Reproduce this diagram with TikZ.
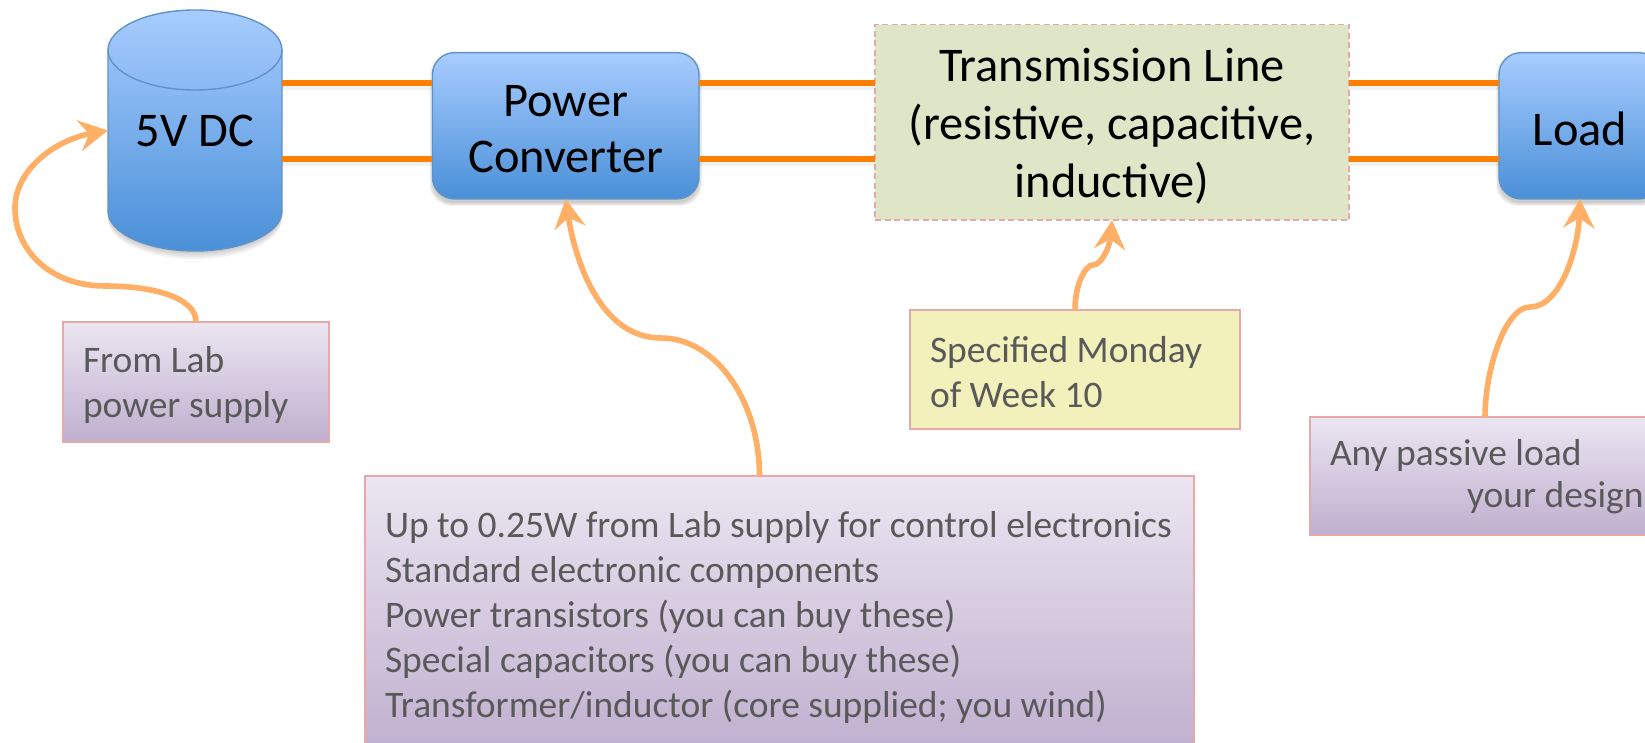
\documentclass[tikz,border=0pt]{standalone}
\usepackage{fontspec}
\setmainfont{Carlito}
\usetikzlibrary{arrows.meta}
\definecolor{blueTop}{HTML}{A8CCFF}
\definecolor{blueBot}{HTML}{4A90D8}
\definecolor{blueLine}{HTML}{5F93C8}
\definecolor{noteLine}{HTML}{E6A9A9}
\definecolor{purpTop}{HTML}{EBE6F1}
\definecolor{purpBot}{HTML}{C0AFCF}
\definecolor{noteText}{HTML}{595959}
\definecolor{wire}{HTML}{FF8000}
\definecolor{callout}{HTML}{FFB066}
\definecolor{tlfill}{RGB}{223,230,200}
\definecolor{specfill}{RGB}{243,241,187}
\tikzset{
  x=1pt,y=-1pt,
  bluebox/.style={rectangle,rounded corners=22pt,draw=blueLine,line width=1.4pt,top color=blueTop,bottom color=blueBot,
    align=center,text=black,font=\fontsize{48.4}{56.6}\selectfont,inner sep=0pt,outer sep=0pt},
  notebox/.style={rectangle,draw=noteLine,line width=1.6pt,align=flush left,text=noteText,
    font=\fontsize{37.5}{45}\selectfont,inner xsep=20pt,inner ysep=0pt,outer sep=0pt},
  purple/.style={top color=purpTop,bottom color=purpBot},
  wireline/.style={draw=wire,line width=5.6pt},
  wireshadow/.style={draw=black,opacity=.05,line width=6pt},
  calloutline/.style={draw=callout,line width=5.6pt,-{Stealth[length=29pt,width=31pt,inset=10pt]}},
}
\newcommand{\softshadow}[5]{%
  \foreach \e in {3,2,1,0}{
    \fill[black,opacity=.05,rounded corners=#5] (#1-\e,#2-\e+4) rectangle (#3+\e,#4+\e+4);
  }}
\newcommand{\cylbody}[1]{%
  (108,50+#1) .. controls (108,28+#1) and (147,10+#1) .. (195,10+#1) .. controls (243,10+#1) and (282,28+#1) .. (282,50+#1)
  -- (282,211+#1) .. controls (282,233+#1) and (243,251+#1) .. (195,251+#1) .. controls (147,251+#1) and (108,233+#1) .. (108,211+#1) -- cycle}
\begin{document}
\begin{tikzpicture}
\useasboundingbox (0,0) rectangle (1645,743);
\clip (0,0) rectangle (1645,743);
\fill[white] (0,0) rectangle (1645,743);
% shadows
\foreach \e in {2,4,6,8}{ \fill[black,opacity=.05] \cylbody{\e}; }
\softshadow{432.5}{52.7}{699}{199}{22pt}
\softshadow{1499}{52.7}{1661}{199}{22pt}
% rows of the wires
\coordinate (rowA) at (0,83.3);
\coordinate (rowB) at (0,159);
% cylinder
\draw[draw=blueLine,line width=1.4pt,top color=blueTop,bottom color=blueBot] \cylbody{0};
\draw[draw=blueLine,line width=1.4pt] (108,50) .. controls (108,72) and (147,90) .. (195,90) .. controls (243,90) and (282,72) .. (282,50);
% main nodes
\node[minimum width=174pt,minimum height=241pt,inner sep=0pt,outer sep=0pt,font=\fontsize{48.4}{56.6}\selectfont,text=black] (dc) at (195,130.5) {\rule{0pt}{33pt}5V DC};
\node[bluebox,minimum width=266.5pt,minimum height=146.3pt] (conv) at (565.7,125.8) {\rule{0pt}{38pt}Power\\Converter};
\node[rectangle,draw=noteLine,dash pattern=on 6pt off 3.5pt,line width=1.5pt,fill=tlfill,
  minimum width=474pt,minimum height=195.5pt,align=center,text=black,font=\fontsize{48.4}{58}\selectfont,inner sep=0pt,outer sep=0pt] (tl) at (1112,122.4) {\rule{0pt}{41pt}Transmission Line\\(resistive, capacitive,\\inductive)};
\node[bluebox,minimum width=162pt,minimum height=146.3pt] (load) at (1580,125.8) {\rule{0pt}{40pt}Load};
% wires
\foreach \a/\b in {dc/conv,conv/tl,tl/load}{
  \draw[wireshadow] ([yshift=-4pt]\a.east |- rowA) -- ([yshift=-4pt]\b.west |- rowA);
  \draw[wireshadow] ([yshift=-4pt]\a.east |- rowB) -- ([yshift=-4pt]\b.west |- rowB);
  \draw[wireline] (\a.east |- rowA) -- (\b.west |- rowA);
  \draw[wireline] (\a.east |- rowB) -- (\b.west |- rowB);
}
% notes
\node[notebox,purple,minimum width=266.5pt,minimum height=120pt,text width=226pt] (lab) at (196,381.7) {\rule{0pt}{32pt}From Lab\\power supply};
\node[notebox,fill=specfill,minimum width=330pt,minimum height=119pt,text width=290pt] (spec) at (1075,369.5) {\rule{0pt}{32pt}Specified Monday\\of Week 10};
\node[notebox,purple,minimum width=829pt,minimum height=275pt,text width=789pt,anchor=north] (big) at (779.5,476)
 {\rule{0pt}{34pt}Up to 0.25W from Lab supply for control electronics\\Standard electronic components\\Power transistors (you can buy these)\\Special capacitors (you can buy these)\\Transformer/inductor (core supplied; you wind)};
\node[notebox,purple,minimum width=350pt,minimum height=118pt,text width=310pt] (any) at (1485,476) {\rule{0pt}{27pt}Any passive load\\[-2.8pt]\mbox{\hspace*{137pt}your design}};
% callouts
\draw[calloutline] (lab.north) .. controls (196,300) and (160,286) .. (105,286) .. controls (50,286) and (15,250) .. (15,208) .. controls (15,170) and (55,140) .. (dc.west);
\draw[calloutline] ([xshift=-20pt]big.north) .. controls (759.5,400) and (715,338) .. (661,338) .. controls (600,338) and (575,260) .. (conv.south);
\draw[calloutline] (spec.north) .. controls (1075,285) and (1085,265) .. (1093,265) .. controls (1102,265) and (1110,245) .. (tl.south);
\draw[calloutline] (any.north) .. controls (1485,370) and (1505,307) .. (1530,307) .. controls (1560,307) and (1578,250) .. (load.south);
\end{tikzpicture}
\end{document}
